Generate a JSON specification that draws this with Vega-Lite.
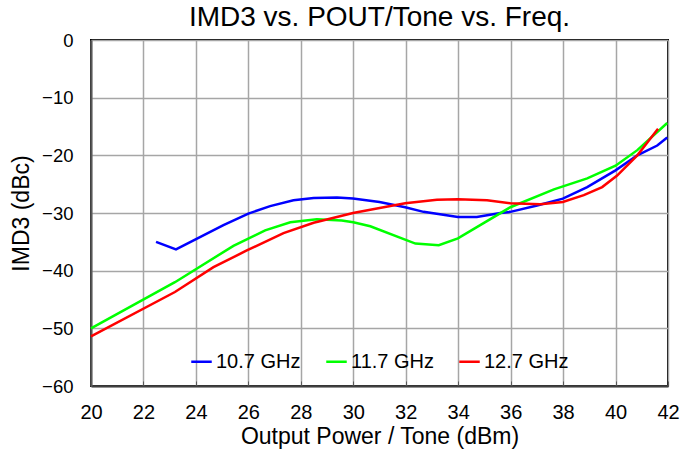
{
  "$schema": "https://vega.github.io/schema/vega-lite/v6.json",
  "autosize": "none",
  "width": 577,
  "height": 346,
  "padding": {"left": 91, "top": 40, "right": 12, "bottom": 66},
  "background": "white",
  "config": {
    "font": "Liberation Sans",
    "view": {"stroke": "black", "strokeWidth": 2}
  },
  "title": {
    "text": "IMD3 vs. POUT/Tone vs. Freq.",
    "font": "Liberation Sans",
    "fontSize": 28,
    "fontWeight": "normal",
    "color": "black",
    "offset": -1,
    "anchor": "middle"
  },
  "data": {
    "values": [
      {"f": "10.7 GHz", "x": 22.48, "y": -35.0},
      {"f": "10.7 GHz", "x": 23.24, "y": -36.3},
      {"f": "10.7 GHz", "x": 25.05, "y": -32.1},
      {"f": "10.7 GHz", "x": 26.0, "y": -30.1},
      {"f": "10.7 GHz", "x": 26.83, "y": -28.8},
      {"f": "10.7 GHz", "x": 27.72, "y": -27.8},
      {"f": "10.7 GHz", "x": 28.49, "y": -27.4},
      {"f": "10.7 GHz", "x": 29.38, "y": -27.3},
      {"f": "10.7 GHz", "x": 29.99, "y": -27.5},
      {"f": "10.7 GHz", "x": 31.0, "y": -28.1},
      {"f": "10.7 GHz", "x": 31.98, "y": -29.0},
      {"f": "10.7 GHz", "x": 32.68, "y": -29.8},
      {"f": "10.7 GHz", "x": 33.99, "y": -30.7},
      {"f": "10.7 GHz", "x": 34.71, "y": -30.7},
      {"f": "10.7 GHz", "x": 35.61, "y": -30.0},
      {"f": "10.7 GHz", "x": 35.99, "y": -29.8},
      {"f": "10.7 GHz", "x": 37.01, "y": -28.7},
      {"f": "10.7 GHz", "x": 37.99, "y": -27.5},
      {"f": "10.7 GHz", "x": 38.92, "y": -25.5},
      {"f": "10.7 GHz", "x": 40.0, "y": -22.6},
      {"f": "10.7 GHz", "x": 40.83, "y": -20.0},
      {"f": "10.7 GHz", "x": 41.59, "y": -18.3},
      {"f": "10.7 GHz", "x": 41.97, "y": -16.9},
      {"f": "11.7 GHz", "x": 20.0, "y": -50.0},
      {"f": "11.7 GHz", "x": 23.2, "y": -42.0},
      {"f": "11.7 GHz", "x": 25.43, "y": -35.7},
      {"f": "11.7 GHz", "x": 26.64, "y": -33.0},
      {"f": "11.7 GHz", "x": 27.6, "y": -31.6},
      {"f": "11.7 GHz", "x": 28.61, "y": -31.1},
      {"f": "11.7 GHz", "x": 29.56, "y": -31.3},
      {"f": "11.7 GHz", "x": 30.0, "y": -31.6},
      {"f": "11.7 GHz", "x": 30.65, "y": -32.3},
      {"f": "11.7 GHz", "x": 32.37, "y": -35.3},
      {"f": "11.7 GHz", "x": 33.26, "y": -35.6},
      {"f": "11.7 GHz", "x": 33.99, "y": -34.4},
      {"f": "11.7 GHz", "x": 35.99, "y": -29.0},
      {"f": "11.7 GHz", "x": 37.65, "y": -25.9},
      {"f": "11.7 GHz", "x": 38.92, "y": -24.0},
      {"f": "11.7 GHz", "x": 40.0, "y": -21.8},
      {"f": "11.7 GHz", "x": 40.83, "y": -19.1},
      {"f": "11.7 GHz", "x": 41.97, "y": -14.4},
      {"f": "12.7 GHz", "x": 20.0, "y": -51.4},
      {"f": "12.7 GHz", "x": 23.2, "y": -43.7},
      {"f": "12.7 GHz", "x": 24.67, "y": -39.4},
      {"f": "12.7 GHz", "x": 25.94, "y": -36.5},
      {"f": "12.7 GHz", "x": 27.34, "y": -33.5},
      {"f": "12.7 GHz", "x": 28.49, "y": -31.7},
      {"f": "12.7 GHz", "x": 29.99, "y": -30.0},
      {"f": "12.7 GHz", "x": 30.8, "y": -29.3},
      {"f": "12.7 GHz", "x": 31.98, "y": -28.3},
      {"f": "12.7 GHz", "x": 33.19, "y": -27.7},
      {"f": "12.7 GHz", "x": 33.99, "y": -27.6},
      {"f": "12.7 GHz", "x": 35.1, "y": -27.8},
      {"f": "12.7 GHz", "x": 35.99, "y": -28.3},
      {"f": "12.7 GHz", "x": 37.13, "y": -28.5},
      {"f": "12.7 GHz", "x": 37.99, "y": -28.1},
      {"f": "12.7 GHz", "x": 38.79, "y": -26.9},
      {"f": "12.7 GHz", "x": 39.49, "y": -25.5},
      {"f": "12.7 GHz", "x": 40.06, "y": -23.5},
      {"f": "12.7 GHz", "x": 40.83, "y": -20.0},
      {"f": "12.7 GHz", "x": 41.62, "y": -15.4}
    ]
  },
  "mark": {"type": "line", "strokeWidth": 2.5},
  "encoding": {
    "x": {
      "field": "x",
      "type": "quantitative",
      "scale": {"domain": [20, 42], "nice": false},
      "axis": {
        "title": "Output Power / Tone (dBm)",
        "values": [20, 22, 24, 26, 28, 30, 32, 34, 36, 38, 40, 42],
        "labelFontSize": 20,
        "titleFontSize": 23,
        "titleFontWeight": "normal",
        "labelColor": "black",
        "titleColor": "black",
        "labelFlush": false,
        "labelOverlap": false,
        "labelPadding": 21,
        "titlePadding": 3,
        "tickSize": -5,
        "tickColor": "#595959",
        "domainColor": "#404040",
        "domainWidth": 2,
        "gridColor": "#a6a6a6",
        "gridWidth": 1.5,
        "gridOpacity": 1
      }
    },
    "y": {
      "field": "y",
      "type": "quantitative",
      "scale": {"domain": [-60, 0], "nice": false},
      "axis": {
        "title": "IMD3 (dBc)",
        "values": [-60, -50, -40, -30, -20, -10, 0],
        "labelFontSize": 18.5,
        "titleFontSize": 23,
        "titleFontWeight": "normal",
        "labelColor": "black",
        "titleColor": "black",
        "labelFlush": false,
        "labelOverlap": false,
        "labelPadding": 18,
        "titlePadding": 8,
        "tickSize": 0,
        "domainColor": "#595959",
        "domainWidth": 2,
        "gridColor": "#a6a6a6",
        "gridWidth": 1.5,
        "gridOpacity": 1
      }
    },
    "color": {
      "field": "f",
      "type": "nominal",
      "scale": {"domain": ["10.7 GHz", "11.7 GHz", "12.7 GHz"], "range": ["#0000ff", "#00ff00", "#ff0000"]},
      "legend": {
        "title": null,
        "orient": "none",
        "direction": "horizontal",
        "legendX": 99,
        "legendY": 310,
        "symbolType": "stroke",
        "symbolSize": 420,
        "symbolStrokeWidth": 2.5,
        "labelFontSize": 20,
        "labelColor": "black",
        "labelOffset": 3,
        "columnPadding": 20
      }
    }
  }
}
